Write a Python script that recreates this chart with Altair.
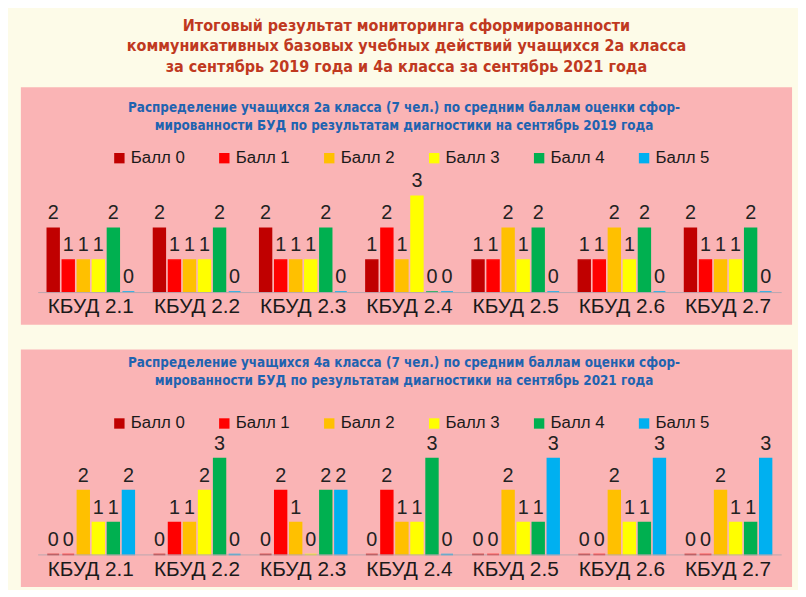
import altair as alt
import pandas as pd

groups = ["КБУД 2.1", "КБУД 2.2", "КБУД 2.3", "КБУД 2.4", "КБУД 2.5", "КБУД 2.6", "КБУД 2.7"]
scores = ["Балл 0", "Балл 1", "Балл 2", "Балл 3", "Балл 4", "Балл 5"]
colors = ["#c00000", "#ff0000", "#ffc000", "#ffff00", "#00b050", "#00b0f0"]

# 2a class, September 2019
b0_2019 = [2, 2, 2, 1, 1, 1, 2]
b1_2019 = [1, 1, 1, 2, 1, 1, 1]
b2_2019 = [1, 1, 1, 1, 2, 2, 1]
b3_2019 = [1, 1, 1, 3, 1, 1, 1]
b4_2019 = [2, 2, 2, 0, 2, 2, 2]
b5_2019 = [0, 0, 0, 0, 0, 0, 0]

# 4a class, September 2021
b0_2021 = [0, 0, 0, 0, 0, 0, 0]
b1_2021 = [0, 1, 2, 2, 0, 0, 0]
b2_2021 = [2, 1, 1, 1, 2, 2, 2]
b3_2021 = [1, 2, 0, 1, 1, 1, 1]
b4_2021 = [1, 3, 2, 3, 1, 1, 1]
b5_2021 = [2, 0, 2, 0, 3, 3, 3]

title_lines = [
    "Итоговый результат мониторинга сформированности",
    "коммуникативных базовых учебных действий учащихся 2а класса",
    "за сентябрь 2019 года и 4а класса за сентябрь 2021 года",
]
sub1 = [
    "Распределение учащихся 2а класса (7 чел.) по средним баллам оценки сфор-",
    "мированности БУД по результатам диагностики на сентябрь 2019 года",
]
sub2 = [
    "Распределение учащихся 4а класса (7 чел.) по средним баллам оценки сфор-",
    "мированности БУД по результатам диагностики на сентябрь 2021 года",
]

NARROW = "Liberation Sans Narrow, Arial Narrow, DejaVu Sans Condensed, sans-serif"
SANS = "Liberation Sans, Arial, sans-serif"
PINK = "#fab4b5"


def to_long(series):
    rows = []
    for s, vals in zip(scores, series):
        for g, v in zip(groups, vals):
            rows.append({"group": g, "score": s, "value": v})
    return pd.DataFrame(rows)


df1 = to_long([b0_2019, b1_2019, b2_2019, b3_2019, b4_2019, b5_2019])
df2 = to_long([b0_2021, b1_2021, b2_2021, b3_2021, b4_2021, b5_2021])
one = pd.DataFrame({"k": [0]})

W, H = 751, 113


def panel(df, sub_lines, sub_y, legend_y):
    xenc = alt.X(
        "group:N", sort=groups, title=None,
        scale=alt.Scale(paddingInner=0.18, paddingOuter=0.09),
        axis=alt.Axis(labelAngle=0, labelFontSize=21, labelFont=SANS, labelColor="#1a1a1a",
                      ticks=False, labelPadding=4, domainColor="#b9a6ae", domainWidth=1,
                      zindex=2, labelOverlap=False),
    )
    xoff = alt.XOffset("score:N", sort=scores, scale=alt.Scale(paddingInner=0.21, paddingOuter=0))
    yenc = alt.Y("value:Q", scale=alt.Scale(domain=[0, 3.5]), axis=None)

    bg = alt.Chart(one).mark_rect(color=PINK).encode(
        x=alt.value(-17), x2=alt.value(762), y=alt.value(-94), y2=alt.value(146)
    )
    sub = alt.Chart(one).mark_text(
        text=sub_lines, font=NARROW, fontSize=13.5, fontWeight="bold", color="#1f63b0",
        lineHeight=18, baseline="top", align="center",
    ).encode(x=alt.value(370), y=alt.value(sub_y))

    bars = alt.Chart(df).mark_bar(strokeWidth=1.5).encode(
        x=xenc, xOffset=xoff, y=yenc,
        color=alt.Color(
            "score:N", sort=scores, scale=alt.Scale(domain=scores, range=colors),
            legend=alt.Legend(
                title=None, orient="none", legendX=74, legendY=legend_y, direction="horizontal",
                columns=6, symbolType="square", symbolSize=110, symbolStrokeWidth=0,
                labelFontSize=17, labelFont=SANS, labelColor="#1a1a1a", columnPadding=31,
                labelOffset=3,
            ),
        ),
        stroke=alt.Stroke("score:N", scale=alt.Scale(domain=scores, range=colors), legend=None),
    )
    labels = alt.Chart(df).mark_text(
        baseline="bottom", dy=-5, fontSize=20, font=SANS, color="#222222"
    ).encode(x=xenc, xOffset=xoff, y=yenc, text="value:Q")

    return alt.layer(bg, sub, bars, labels).properties(width=W, height=H)


p1 = panel(df1, sub1, -80, -31)
p2 = panel(df2, sub2, -87, -28)

chart = (
    alt.vconcat(p1, p2, spacing=25)
    .resolve_scale(color="independent", stroke="independent")
    .resolve_legend(color="independent")
    .properties(
        title=alt.Title(
            text=title_lines, font=NARROW, fontSize=16.2, fontWeight="bold", color="#c0391f",
            lineHeight=21, anchor="middle", offset=12,
        ),
        background="#fdfbe8",
        padding={"left": 13, "top": 6, "right": 6, "bottom": 0},
    )
    .configure_view(stroke=None)
)

chart.save("out.html", embed_options={"renderer": "svg", "actions": False})
